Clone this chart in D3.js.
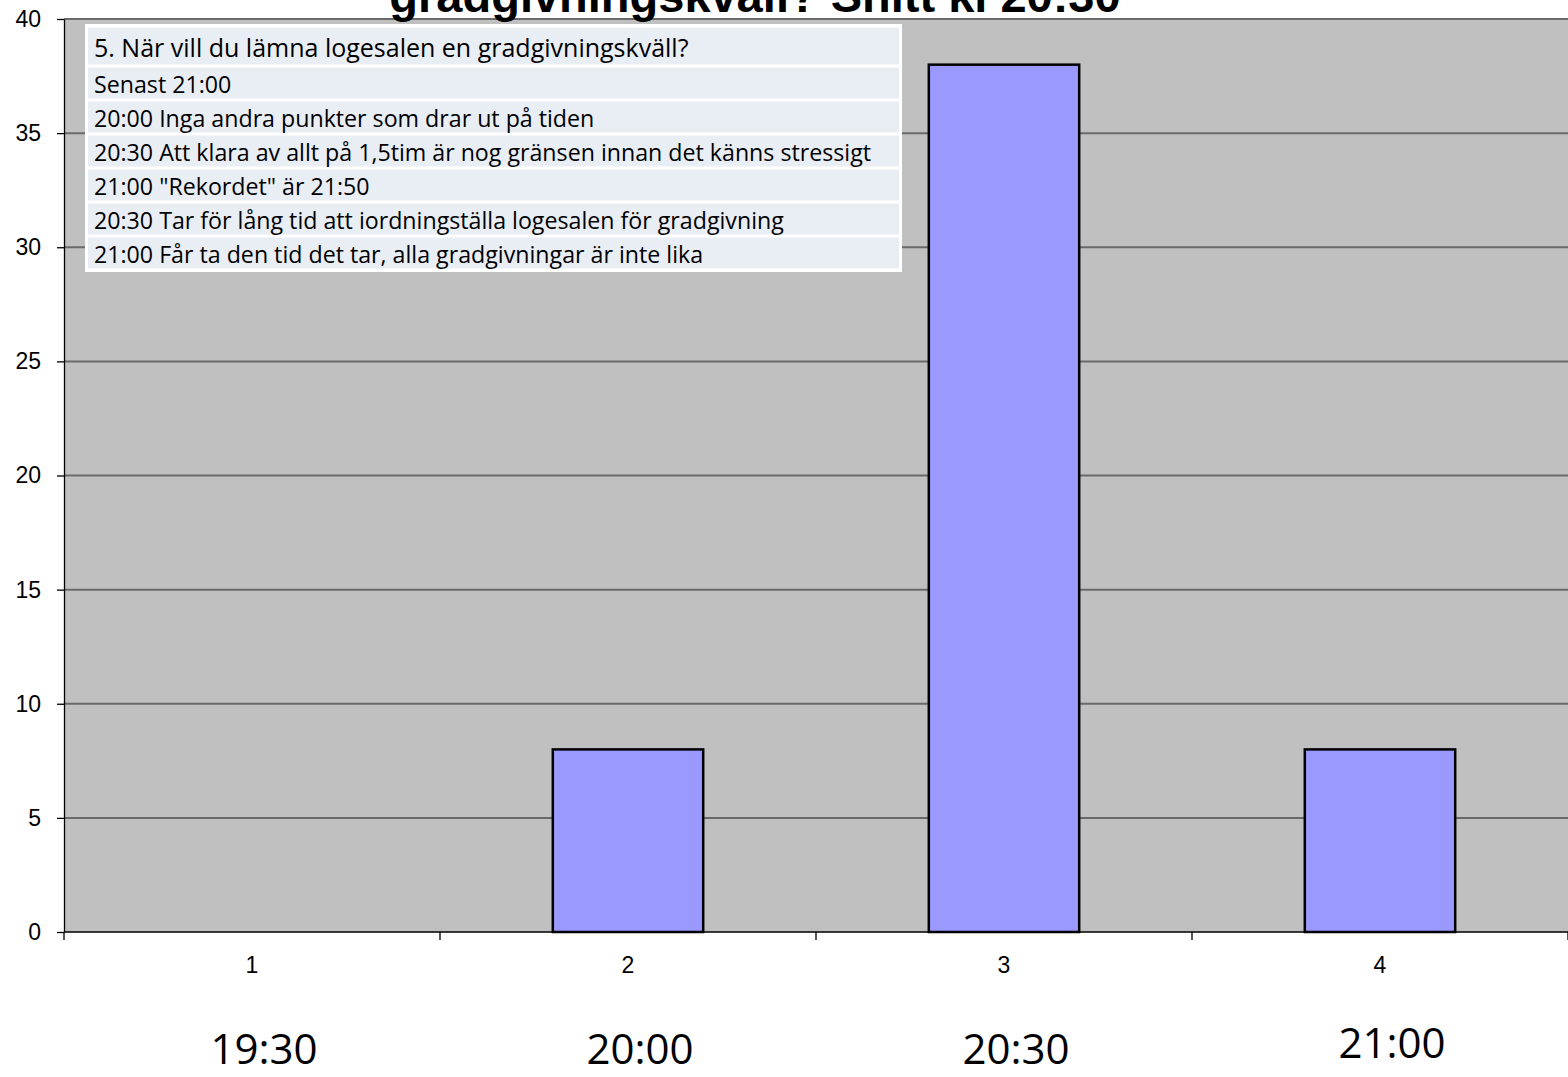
<!DOCTYPE html>
<html lang="sv">
  <head>
    <meta charset="utf-8">
    <title>Gradgivningskväll</title>
    <script src="https://d3js.org/d3.v7.min.js"></script>
    <style>
      body { margin: 0; background: #fff; }
      svg { display: block; }
      .axis text { font-family: "Liberation Sans", Arial, sans-serif; font-size: 23px; fill: #000; }
      .axis path, .axis line { stroke: #000; stroke-width: 1.3px; }
    </style>
  </head>
  <body>
    <div id="main"></div>
    <script>
      // data
      var categories = ["1", "2", "3", "4"];
      var counts = [0, 8, 38, 8];
      var timeLabels = ["19:30", "20:00", "20:30", "21:00"];
      var yTicks = [0, 5, 10, 15, 20, 25, 30, 35, 40];
      var titleText = "gradgivningskväll? Snitt kl 20:30";
      var boxLines = [
        "5. När vill du lämna logesalen en gradgivningskväll?",
        "Senast 21:00",
        "20:00 Inga andra punkter som drar ut på tiden",
        "20:30 Att klara av allt på 1,5tim är nog gränsen innan det känns stressigt",
        "21:00 \"Rekordet\" är 21:50",
        "20:30 Tar för lång tid att iordningställa logesalen för gradgivning",
        "21:00 Får ta den tid det tar, alla gradgivningar är inte lika"
      ];

      var W = 1568, H = 1077;
      var plot = {left: 64, top: 19, right: 1568, bottom: 932};

      var svg = d3.select("#main").append("svg")
        .attr("width", W)
        .attr("height", H);

      var x = d3.scaleBand()
        .domain(categories)
        .range([plot.left, plot.right])
        .paddingInner(0.6)
        .paddingOuter(0.3);
      var xEdge = d3.scaleBand().domain(categories).range([plot.left, plot.right]);
      var y = d3.scaleLinear().domain([0, 40]).range([plot.bottom, plot.top]);

      // plot background
      svg.append("rect")
        .attr("x", plot.left).attr("y", plot.top)
        .attr("width", plot.right - plot.left).attr("height", plot.bottom - plot.top)
        .attr("fill", "#c0c0c0");

      // gridlines
      svg.append("g").selectAll("line").data(yTicks.filter(function(d) { return d > 0; })).enter().append("line")
        .attr("x1", plot.left).attr("x2", plot.right)
        .attr("y1", function(d) { return y(d); }).attr("y2", function(d) { return y(d); })
        .attr("stroke", "#6a6a6a")
        .attr("stroke-width", 2);

      // bars
      svg.append("g").selectAll("rect").data(counts).enter().append("rect")
        .attr("x", function(d, i) { return x(categories[i]); })
        .attr("y", function(d) { return y(d); })
        .attr("width", x.bandwidth())
        .attr("height", function(d) { return y(0) - y(d); })
        .attr("fill", "#9999ff")
        .attr("stroke", "#000")
        .attr("stroke-width", function(d) { return d > 0 ? 2.5 : 0; });

      // y axis
      svg.append("g")
        .attr("class", "axis")
        .attr("transform", "translate(" + plot.left + ",0)")
        .call(d3.axisLeft(y).tickValues(yTicks).tickSize(7).tickPadding(16).tickSizeOuter(0));

      // x axis: ticks at band edges
      var xAxisG = svg.append("g")
        .attr("class", "axis")
        .attr("transform", "translate(0," + plot.bottom + ")");
      xAxisG.append("line")
        .attr("x1", plot.left).attr("x2", plot.right)
        .attr("stroke", "#000").attr("stroke-width", 1.5);
      var edges = categories.map(function(c) { return xEdge(c); }).concat([plot.right]);
      xAxisG.selectAll(".edge").data(edges).enter().append("line")
        .attr("class", "edge")
        .attr("x1", function(d) { return d; }).attr("x2", function(d) { return d; })
        .attr("y1", 0).attr("y2", 8)
        .attr("stroke", "#000");
      xAxisG.selectAll(".lbl").data(categories).enter().append("text")
        .attr("class", "lbl")
        .attr("x", function(d) { return xEdge(d) + xEdge.bandwidth() / 2; })
        .attr("y", 41)
        .attr("text-anchor", "middle")
        .text(function(d) { return d; });

      // time labels under the axis
      svg.append("g").selectAll("text").data(timeLabels).enter().append("text")
        .attr("x", function(d, i) { return xEdge(categories[i]) + xEdge.bandwidth() / 2 + 12; })
        .attr("y", function(d, i) { return i === 3 ? 1058 : 1064; })
        .attr("text-anchor", "middle")
        .style("font-family", "'Open Sans', sans-serif")
        .style("font-size", "42px")
        .attr("fill", "#000")
        .text(function(d) { return d; });

      // title (cut by top edge)
      svg.append("text")
        .attr("x", 755)
        .attr("y", 12)
        .attr("text-anchor", "middle")
        .style("font-family", "'Liberation Sans', Arial, sans-serif")
        .style("font-weight", "bold")
        .style("font-size", "47px")
        .text(titleText);

      // comment text box
      var box = {x: 85, y: 24, w: 817};
      var rowH = boxLines.map(function(d, i) { return i === 0 ? 40 : 34; });
      var rowY = [];
      rowH.reduce(function(acc, h) { rowY.push(acc); return acc + h; }, box.y + 2);
      var boxH = d3.sum(rowH) + 4;
      var boxG = svg.append("g");
      boxG.append("rect")
        .attr("x", box.x).attr("y", box.y)
        .attr("width", box.w).attr("height", boxH)
        .attr("fill", "#fff");
      boxG.selectAll("rect.row").data(boxLines).enter().append("rect")
        .attr("class", "row")
        .attr("x", box.x + 3)
        .attr("y", function(d, i) { return rowY[i] + 1.5; })
        .attr("width", box.w - 6)
        .attr("height", function(d, i) { return rowH[i] - 3; })
        .attr("fill", "#e9edf4");
      boxG.selectAll("text").data(boxLines).enter().append("text")
        .attr("x", box.x + 9)
        .attr("y", function(d, i) { return rowY[i] + rowH[i] - (i === 0 ? 9 : 7); })
        .style("font-family", "'Open Sans', sans-serif")
        .style("font-size", function(d, i) { return i === 0 ? "25px" : "23.2px"; })
        .attr("fill", "#000")
        .text(function(d) { return d; });
    </script>
  </body>
</html>
